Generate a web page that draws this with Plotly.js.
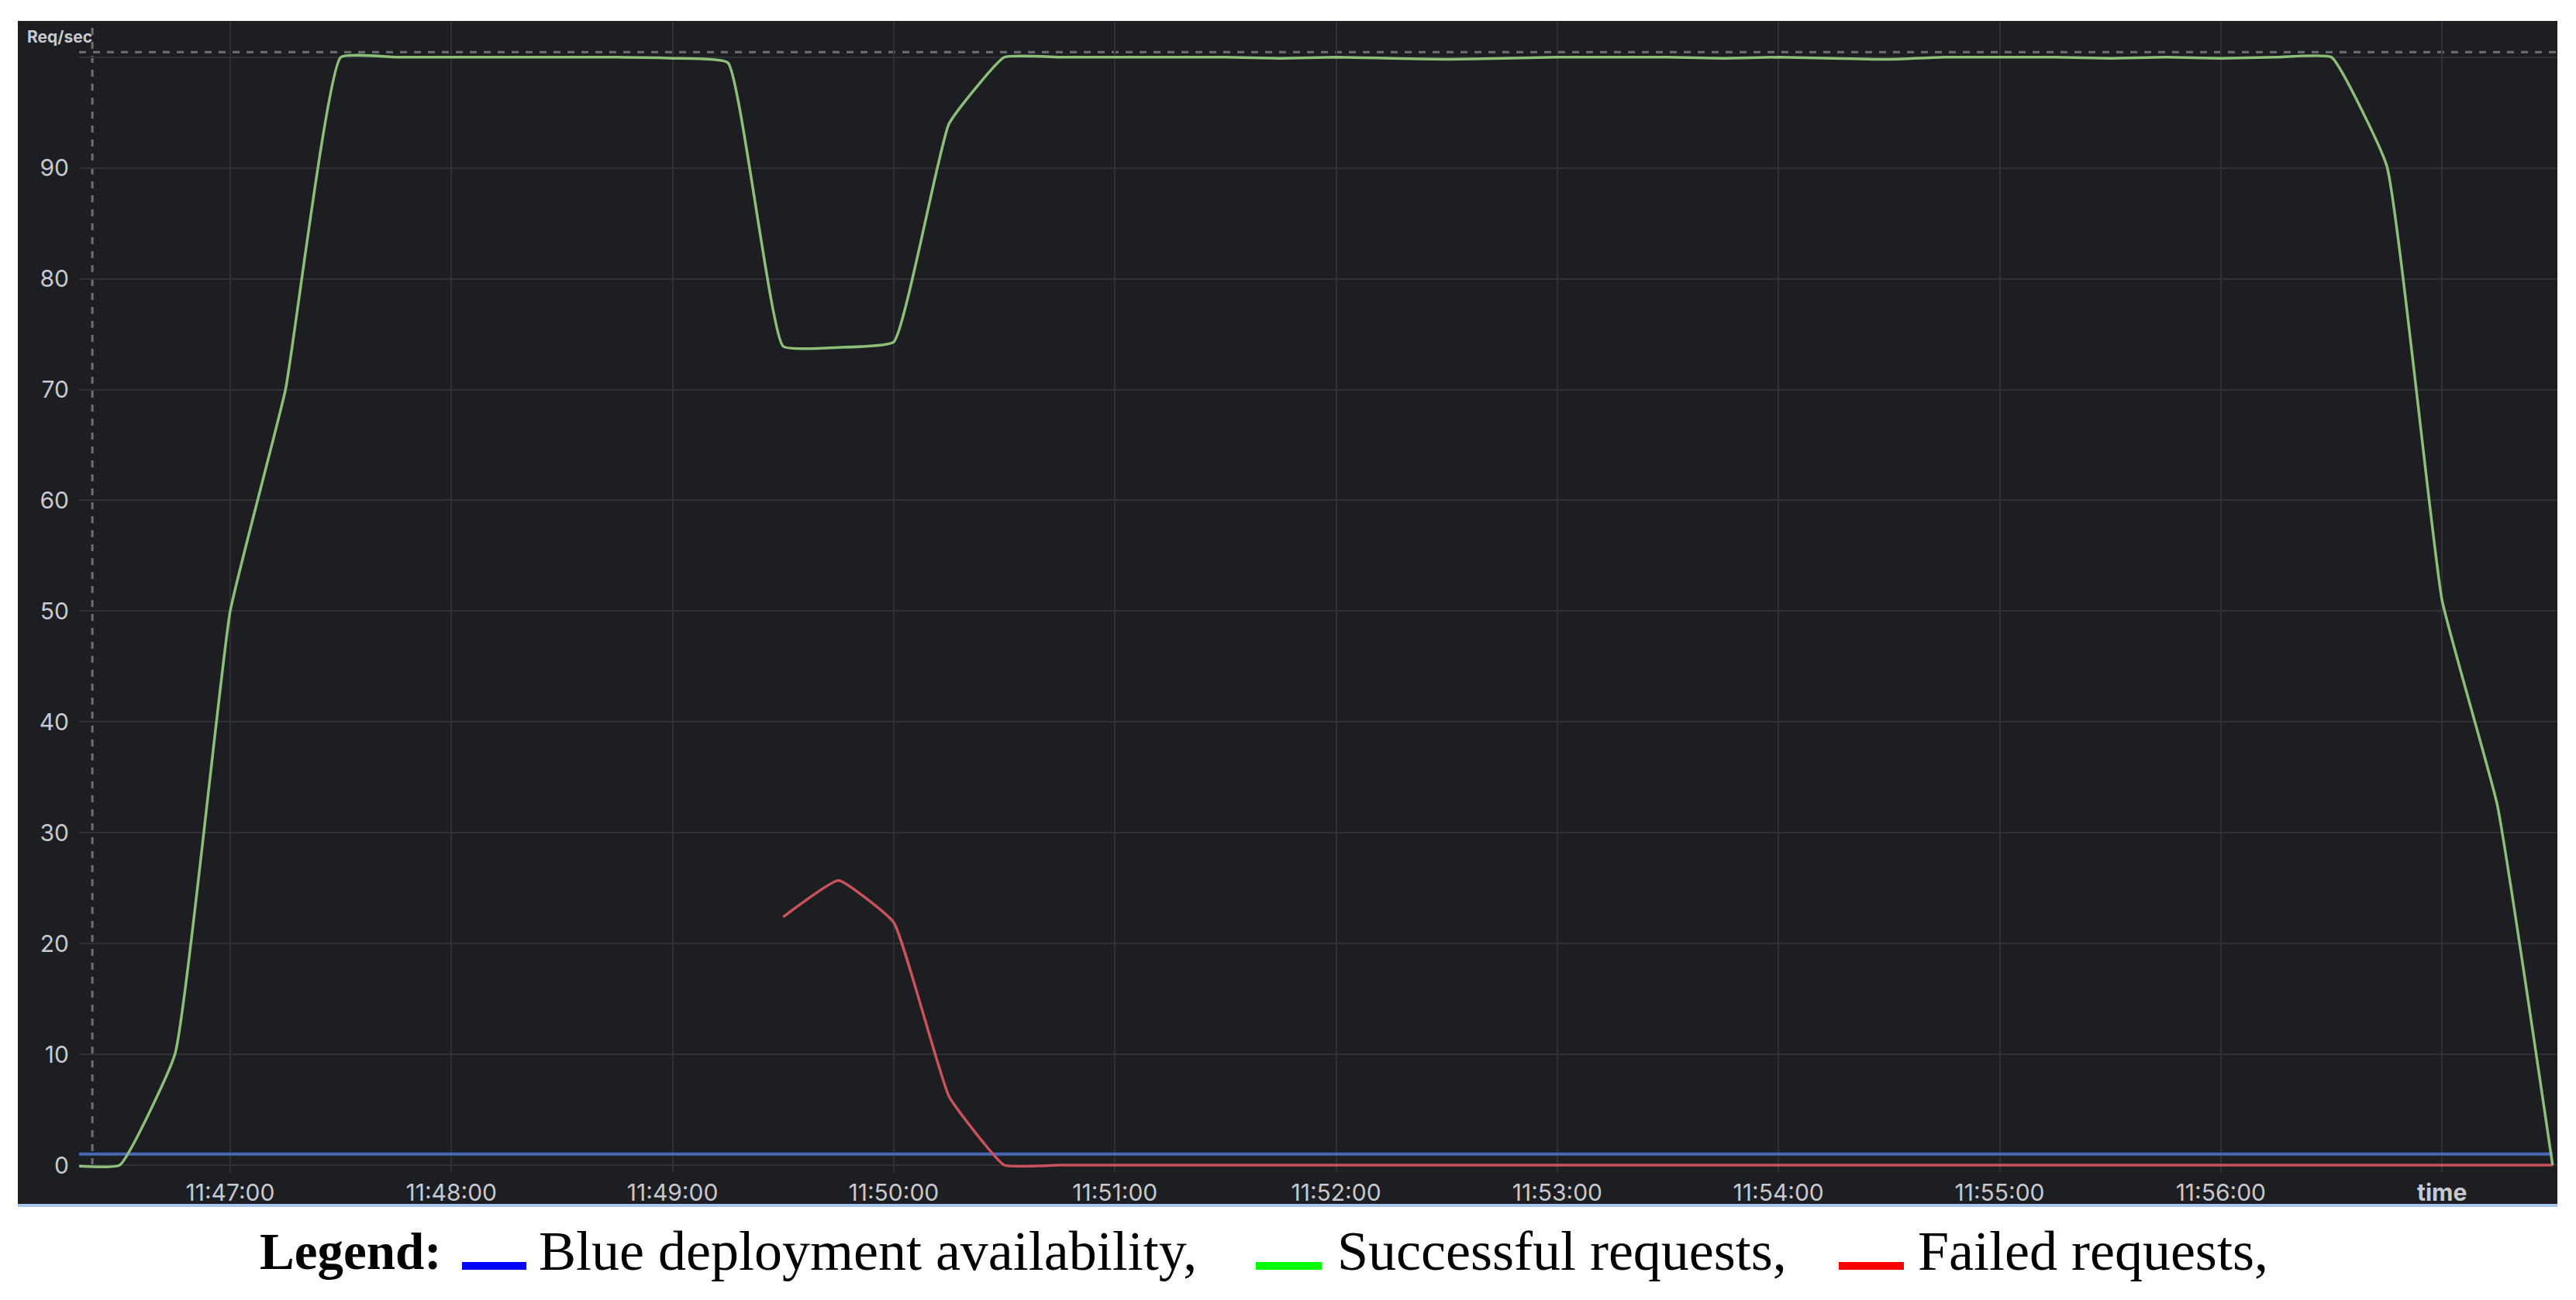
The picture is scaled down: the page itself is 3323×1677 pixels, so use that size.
<!DOCTYPE html>
<html>
<head>
<meta charset="utf-8">
<script src="https://cdn.plot.ly/plotly-3.0.1.min.js"></script>
<style>
  html, body { margin: 0; padding: 0; background: #ffffff; }
  #myDiv { width: 3323px; height: 1677px; }
</style>
</head>
<body>
<div id="myDiv"></div>
<script>
// Req/sec over time, Grafana-style dark panel with a serif legend underneath

const sampleTimes = [
  '11:46:15', '11:46:30', '11:46:45', '11:47:00', '11:47:15', '11:47:30', '11:47:45', '11:48:00',
  '11:48:15', '11:48:30', '11:48:45', '11:49:00', '11:49:15', '11:49:30', '11:49:45', '11:50:00',
  '11:50:15', '11:50:30', '11:50:45', '11:51:00', '11:51:15', '11:51:30', '11:51:45', '11:52:00',
  '11:52:15', '11:52:30', '11:52:45', '11:53:00', '11:53:15', '11:53:30', '11:53:45', '11:54:00',
  '11:54:15', '11:54:30', '11:54:45', '11:55:00', '11:55:15', '11:55:30', '11:55:45', '11:56:00',
  '11:56:15', '11:56:30', '11:56:45', '11:57:00', '11:57:15', '11:57:30'
];

const successfulRequests = [
  0, 0, 10, 50, 70, 100, 100, 100,
  100, 100, 100, 99.9, 99.5, 73.9, 73.8, 74.3,
  94, 100, 100, 100, 100, 100, 99.9, 100,
  99.9, 99.8, 99.9, 100, 100, 100, 99.9, 100,
  99.9, 99.8, 100, 100, 100, 99.9, 100, 99.9,
  100, 100, 90.2, 51, 32.5, 0
];

const failedRequests = [
  null, null, null, null, null, null, null, null,
  null, null, null, null, null, 22.4, 25.7, 21.9,
  6.2, 0, 0, 0, 0, 0, 0, 0,
  0, 0, 0, 0, 0, 0, 0, 0,
  0, 0, 0, 0, 0, 0, 0, 0,
  0, 0, 0, 0, 0, 0
];

const blueAvailability = [
  1, 1, 1, 1, 1, 1, 1, 1,
  1, 1, 1, 1, 1, 1, 1, 1,
  1, 1, 1, 1, 1, 1, 1, 1,
  1, 1, 1, 1, 1, 1, 1, 1,
  1, 1, 1, 1, 1, 1, 1, 1,
  1, 1, 1, 1, 1, 1
];

const tickTimes = ['11:47:00', '11:48:00', '11:49:00', '11:50:00', '11:51:00', '11:52:00',
  '11:53:00', '11:54:00', '11:55:00', '11:56:00', '11:57:00'];
const tickLabels = ['11:47:00', '11:48:00', '11:49:00', '11:50:00', '11:51:00', '11:52:00',
  '11:53:00', '11:54:00', '11:55:00', '11:56:00', '<b>time</b>'];

const yTicks = [0, 10, 20, 30, 40, 50, 60, 70, 80, 90, 100];
const yTickLabels = ['0', '10', '20', '30', '40', '50', '60', '70', '80', '90', ''];

const legendNames = ['Blue deployment availability,', 'Successful requests,', 'Failed requests,'];
const legendColors = ['#0000ff', '#00ff00', '#ff0000'];

// ---------- page geometry (pixels) ----------
const W = 3323, H = 1677;
const M = { l: 102, r: 24, t: 28, b: 164 };
const plotW = W - M.l - M.r;
const plotH = H - M.t - M.b;
const px = (x) => (x - M.l) / plotW;
const py = (y) => (H - M.b - y) / plotH;

const day = '2024-01-01 ';
const xs = sampleTimes.map((t) => day + t);

const panelBg = '#1d1e22';
const textCol = '#c7c8d0';
const smooth = 0.35; // low enough to keep the spline from overshooting flat runs

const traces = [
  {
    x: xs, y: blueAvailability, name: 'Blue deployment availability',
    mode: 'lines', line: { color: '#4768b5', width: 4 }, hoverinfo: 'skip'
  },
  {
    x: xs, y: failedRequests, name: 'Failed requests',
    mode: 'lines', line: { color: '#c9525c', width: 3.5, shape: 'spline', smoothing: smooth },
    connectgaps: false, hoverinfo: 'skip'
  },
  {
    x: xs, y: successfulRequests, name: 'Successful requests',
    mode: 'lines', line: { color: '#8dbf79', width: 3.5, shape: 'spline', smoothing: smooth },
    hoverinfo: 'skip'
  }
];

const shapes = [
  // dark panel
  {
    type: 'rect', xref: 'paper', yref: 'paper', layer: 'below',
    x0: px(23), x1: px(3299), y0: py(1553), y1: py(27),
    fillcolor: panelBg, line: { width: 0 }
  },
  // light blue bottom edge
  {
    type: 'rect', xref: 'paper', yref: 'paper', layer: 'below',
    x0: px(23), x1: px(3299), y0: py(1557), y1: py(1553),
    fillcolor: '#a9c7ee', line: { width: 0 }
  },
  // crosshair
  {
    type: 'line', xref: 'x', yref: 'paper', layer: 'between',
    x0: day + '11:46:22.6', x1: day + '11:46:22.6', y0: py(1503), y1: 1,
    line: { color: '#6e7077', width: 3, dash: 'dash' }
  },
  {
    type: 'line', xref: 'paper', yref: 'y', layer: 'between',
    x0: 0, x1: 1, y0: 100.45, y1: 100.45,
    line: { color: '#6e7077', width: 3, dash: 'dash' }
  }
];

// legend swatches under the panel
const swatchX = [[596, 679], [1620, 1705], [2372, 2456]];
legendColors.forEach((c, i) => {
  shapes.push({
    type: 'rect', xref: 'paper', yref: 'paper',
    x0: px(swatchX[i][0]), x1: px(swatchX[i][1]), y0: py(1638), y1: py(1628),
    fillcolor: c, line: { width: 0 }
  });
});

const legendFont = { family: 'Liberation Serif, Times New Roman, serif', size: 72, color: '#000000' };
const legendTextX = [693, 1723, 2472];
const annotations = [
  {
    xref: 'paper', yref: 'paper', x: px(77), y: py(47),
    text: '<b>Req/sec</b>', showarrow: false, xanchor: 'center', yanchor: 'middle',
    font: { family: 'Inter, sans-serif', size: 21, color: textCol }
  },
  {
    xref: 'paper', yref: 'paper', x: px(333), y: py(1614),
    text: '<b>Legend:</b>', showarrow: false, xanchor: 'left', yanchor: 'middle',
    font: { family: legendFont.family, size: 67, color: '#000000' }
  }
];
legendNames.forEach((n, i) => {
  annotations.push({
    xref: 'paper', yref: 'paper', x: px(legendTextX[i]), y: py(1614),
    text: n, showarrow: false, xanchor: 'left', yanchor: 'middle',
    font: legendFont
  });
});

const layout = {
  width: W, height: H,
  margin: M,
  paper_bgcolor: '#ffffff',
  plot_bgcolor: panelBg,
  showlegend: false,
  font: { family: 'Inter, sans-serif', color: textCol },
  xaxis: {
    type: 'date',
    range: [day + '11:46:19', day + '11:57:31.3'],
    tickmode: 'array',
    tickvals: tickTimes.map((t) => day + t),
    ticktext: tickLabels,
    showgrid: true, gridcolor: '#2e3035', gridwidth: 2,
    zeroline: false, showline: false, ticks: '',
    tickfont: { family: 'Inter, sans-serif', size: 30, color: textCol },
    ticklabelstandoff: 5
  },
  yaxis: {
    range: [-0.7, 103.2],
    tickmode: 'array',
    tickvals: yTicks,
    ticktext: yTickLabels,
    showgrid: true, gridcolor: '#2e3035', gridwidth: 2,
    zeroline: false, showline: false, ticks: '',
    tickfont: { family: 'Inter, sans-serif', size: 30, color: textCol },
    ticklabelstandoff: 12
  },
  shapes: shapes,
  annotations: annotations
};

Plotly.newPlot('myDiv', traces, layout, { staticPlot: true });
document.title = 'Req/sec';
</script>
</body>
</html>
